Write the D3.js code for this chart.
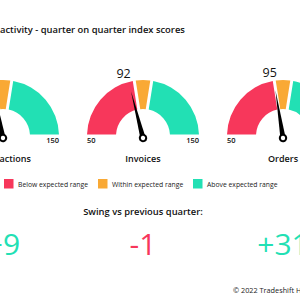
<!DOCTYPE html>
<html>
<head>
<meta charset="utf-8">
<script src="https://cdn.jsdelivr.net/npm/d3@7"></script>
<style>
  html, body { margin: 0; padding: 0; background: #fff; overflow: hidden; }
  svg { display: block; font-family: "Open Sans", sans-serif; }
</style>
</head>
<body>
<svg id="chart" width="300" height="300"></svg>
<script>
// ---- data ----
const titlePrefix = "Trade ";
const titleText = "activity - quarter on quarter index scores";
const gauges = ["Transactions", "Invoices", "Orders"];
const scores = [94, 92, 95];
const scoreLabels = ["", "92", "95"];
const swings = [9, -1, 31];
const swingLabels = ["+9", "-1", "+31"];
const rangeMin = 50;
const rangeMax = 150;
const thresholds = [50, 95, 105, 150];
const bandNames = ["Below expected range", "Within expected range", "Above expected range"];
const swingTitle = "Swing vs previous quarter:";
const footer = "\u00A9 2022 Tradeshift Holdings";

// ---- styles ----
const colors = ["#f7375b", "#f9a935", "#22e0b4"];
const svg = d3.select("#chart");

const cxScale = d3.scalePoint().domain(gauges).range([3, 283]);
const cy = 136, R = 56, r = 27;
const angle = d3.scaleLinear().domain([rangeMin, rangeMax]).range([-Math.PI / 2, Math.PI / 2]);

// Title
const title = svg.append("text").attr("y", 33)
  .attr("font-size", 10).attr("font-weight", 600).attr("fill", "#111");
const tp = title.append("tspan").text(titlePrefix);
const tv = title.append("tspan").text(titleText);
const tvw = tv.node().getComputedTextLength();
title.attr("font-size", 10 * 185 / tvw);
title.attr("x", -tp.node().getComputedTextLength());

const arc = d3.arc().innerRadius(r).outerRadius(R).padRadius(R).padAngle(3 / R);
const bands = d3.range(thresholds.length - 1).map(i => ({
  startAngle: angle(thresholds[i]), endAngle: angle(thresholds[i + 1]), color: colors[i]
}));

gauges.forEach((name, i) => {
  const g = svg.append("g").attr("transform", `translate(${cxScale(name)},${cy})`);
  g.selectAll("path.band").data(bands).join("path").attr("class", "band")
    .attr("d", arc).attr("fill", d => d.color);

  // min / max labels
  g.append("text").attr("x", -R).attr("y", 7).attr("font-size", 7.5).attr("font-weight", 600)
    .attr("text-anchor", "start").attr("fill", "#111").text(rangeMin);
  g.append("text").attr("x", R).attr("y", 7).attr("font-size", 7.5).attr("font-weight", 600)
    .attr("text-anchor", "end").attr("fill", "#111").text(rangeMax);

  // needle
  const a = angle(scores[i]);
  const len = 48, bw = 2.6;
  const deg = a * 180 / Math.PI;
  const ng = g.append("g").attr("transform", `translate(0,2) rotate(${deg})`);
  ng.append("path").attr("d", `M${-bw},0 L0,${-len} L${bw},0 Z`).attr("fill", "#000");
  ng.append("circle").attr("r", 4.2).attr("fill", "#000");
  ng.append("circle").attr("r", 2.2).attr("fill", "#fff");

  // score label
  const lr = 66;
  g.append("text").attr("x", lr * Math.sin(a) - 3).attr("y", -lr * Math.cos(a) + 6)
    .attr("text-anchor", "middle").attr("font-size", 12.5).attr("font-weight", 500)
    .attr("fill", "#111").text(scoreLabels[i]);

  // gauge name
  g.append("text").attr("y", 26).attr("text-anchor", "middle")
    .attr("font-size", 9).attr("font-weight", 600).attr("fill", "#111").text(name);

  // swing value
  svg.append("text").attr("x", cxScale(name)).attr("y", 255).attr("text-anchor", "middle")
    .attr("font-size", 30).attr("font-weight", 500)
    .attr("fill", swings[i] < 0 ? colors[0] : colors[2]).text(swingLabels[i]);
});

// legend
const legendX = [4, 98, 193];
const lg = svg.append("g");
bandNames.forEach((n, i) => {
  lg.append("rect").attr("x", legendX[i]).attr("y", 179).attr("width", 9.5).attr("height", 9.5)
    .attr("fill", colors[i]);
  lg.append("text").attr("x", legendX[i] + 14).attr("y", 186.5).attr("font-size", 6.8)
    .attr("fill", "#222").text(n);
});

// swing title
svg.append("text").attr("x", 143).attr("y", 215).attr("text-anchor", "middle")
  .attr("font-size", 9.4).attr("font-weight", 600).attr("fill", "#111").text(swingTitle);

// footer
svg.append("text").attr("x", 233).attr("y", 293).attr("font-size", 7.3)
  .attr("fill", "#222").text(footer);
</script>
</body>
</html>
